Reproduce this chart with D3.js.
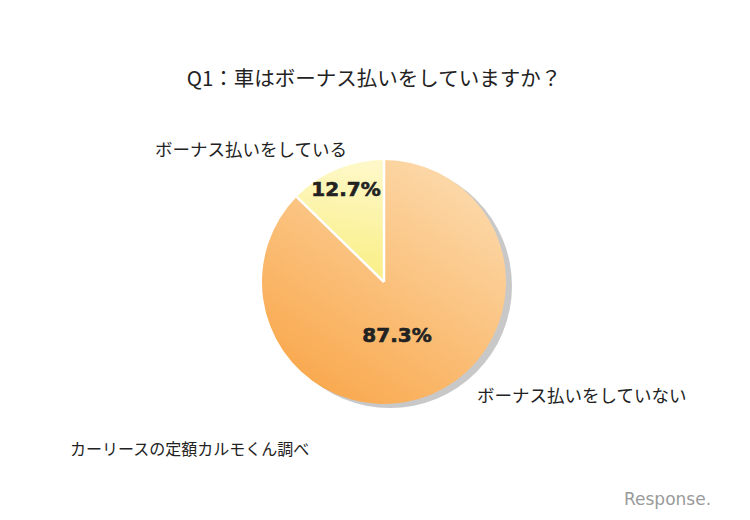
<!DOCTYPE html>
<html><head><meta charset="utf-8">
<script src="https://cdn.jsdelivr.net/npm/d3@7"></script>
<style>body{margin:0;background:#fff}svg{display:block}</style>
</head><body>
<script>
const categories = ["ボーナス払いをしていない", "ボーナス払いをしている"];
const values = [87.3, 12.7];
const valueLabels = ["87.3%", "12.7%"];
const title = "Q1：車はボーナス払いをしていますか？";
const source = "カーリースの定額カルモくん調べ";

const W = 750, H = 520;
const svg = d3.select("body").append("svg").attr("width", W).attr("height", H);
const font = "'Noto Sans CJK JP', 'Noto Sans', sans-serif";

const defs = svg.append("defs");
const g1 = defs.append("linearGradient").attr("id", "gBig")
  .attr("x1", "80%").attr("y1", "5%").attr("x2", "20%").attr("y2", "95%");
g1.append("stop").attr("offset", "0%").attr("stop-color", "#fcd9aa");
g1.append("stop").attr("offset", "100%").attr("stop-color", "#f9a84d");
const g2 = defs.append("linearGradient").attr("id", "gSmall")
  .attr("x1", "50%").attr("y1", "0%").attr("x2", "40%").attr("y2", "100%");
g2.append("stop").attr("offset", "0%").attr("stop-color", "#fef8c8");
g2.append("stop").attr("offset", "100%").attr("stop-color", "#f9ee80");
const fills = ["url(#gBig)", "url(#gSmall)"];

const cx = 384, cy = 282, r = 122;
const pie = d3.pie().sort(null).value(d => d)(values);
const arc = d3.arc().innerRadius(0).outerRadius(r);

// shadow
svg.append("circle").attr("cx", cx + 6).attr("cy", cy + 4).attr("r", r)
  .attr("fill", "#c8c8c8");

const g = svg.append("g").attr("transform", `translate(${cx},${cy})`);
g.selectAll("path.slice").data(pie).join("path")
  .attr("class", "slice")
  .attr("d", arc)
  .attr("fill", (d, i) => fills[i]);

// white separators along slice boundaries
g.selectAll("line.sep").data(pie).join("line")
  .attr("class", "sep")
  .attr("x1", 0).attr("y1", 0)
  .attr("x2", d => r * Math.sin(d.startAngle))
  .attr("y2", d => -r * Math.cos(d.startAngle))
  .attr("stroke", "#ffffff").attr("stroke-width", 2.5).attr("stroke-linecap", "butt");

// value labels
const labelPos = [[13, 60], [-38, -86]];
g.selectAll("text.val").data(pie).join("text")
  .attr("class", "val")
  .attr("x", (d, i) => labelPos[i][0]).attr("y", (d, i) => labelPos[i][1])
  .attr("text-anchor", "middle")
  .attr("font-family", "'DejaVu Sans', sans-serif").attr("font-weight", "bold")
  .attr("font-size", 20).attr("fill", "#222")
  .attr("stroke", "#222").attr("stroke-width", 0.6)
  .text((d, i) => valueLabels[i]);

svg.append("text").attr("x", 374).attr("y", 86).attr("text-anchor", "middle")
  .attr("font-family", font).attr("font-size", 20.5).attr("fill", "#222").text(title);

svg.append("text").attr("x", 155).attr("y", 156)
  .attr("font-family", font).attr("font-size", 17.5).attr("fill", "#222").text(categories[1]);
svg.append("text").attr("x", 477).attr("y", 402)
  .attr("font-family", font).attr("font-size", 17.5).attr("fill", "#222").text(categories[0]);

svg.append("text").attr("x", 70).attr("y", 455)
  .attr("font-family", font).attr("font-size", 16).attr("fill", "#222").text(source);

// watermark
svg.append("text").attr("x", 624).attr("y", 505)
  .attr("font-family", "'DejaVu Sans', sans-serif").attr("font-size", 17)
  .attr("fill", "#9a9a9a").text("Response.");
</script>
</body></html>
